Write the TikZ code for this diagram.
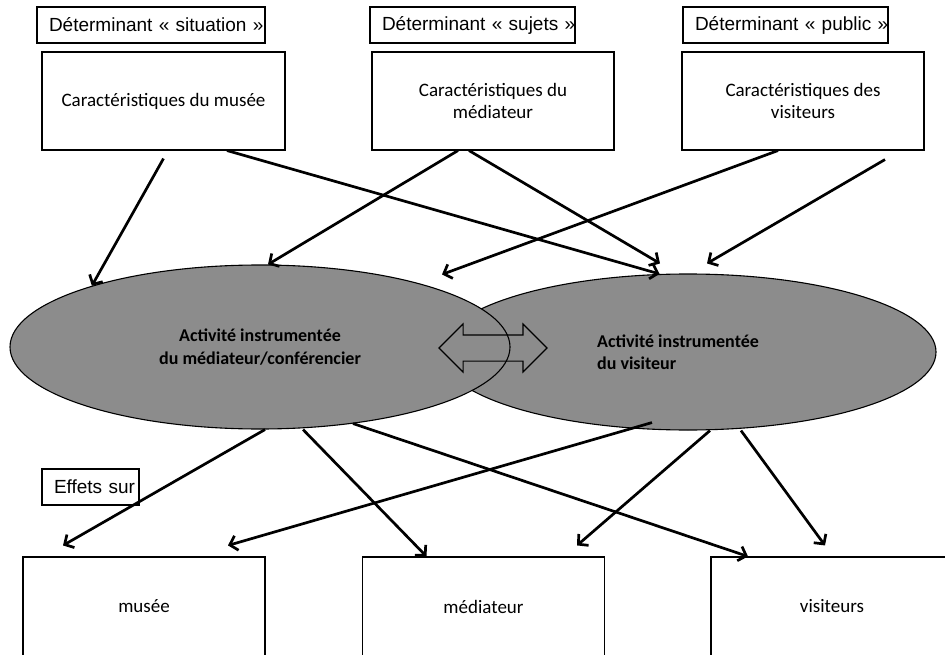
\documentclass[tikz,border=0pt]{standalone}
\usepackage{fontspec}
\setmainfont{Carlito}
\newfontfamily\arialfont{Liberation Sans}
\usepackage{tikz}
\usetikzlibrary{arrows.meta,positioning,shapes.geometric,shapes.arrows}
\definecolor{actgray}{RGB}{140,140,140}

\begin{document}
\begin{tikzpicture}[x=1pt, y=-1pt,
    detbox/.style={draw, line width=1.1pt, inner xsep=12pt, inner ysep=0pt, minimum height=36pt, align=left, font=\arialfont\fontsize{19}{22}\selectfont},
    carbox/.style={draw, line width=1.1pt, inner sep=0pt, minimum width=242pt, minimum height=98pt, align=center, font=\fontsize{19}{22.5}\selectfont},
    activ/.style={ellipse, draw, line width=1.1pt, fill=actgray, inner sep=0pt, align=center, font=\bfseries\fontsize{18}{22.5}\selectfont},
    arr/.style={line width=2.7pt, -{Straight Barb[length=7pt,width=15pt]}}]
    \useasboundingbox (0,0) rectangle (945,655);
    \clip (0,0) rectangle (945,655);

    % Determinants
    \node[detbox, text width=204pt] (dsit) at (151,25) {\mbox{Déterminant « situation »}};
    \node[detbox, text width=181pt] (dsuj) at (472.5,25) {\mbox{Déterminant « sujets »}};
    \node[detbox, text width=181pt] (dpub) at (785.5,25) {\mbox{Déterminant « public »}};

    % Caracteristiques
    \node[carbox, minimum width=243pt] (cmus) at (163.5,101) {Caractéristiques du musée};
    \node[carbox] (cmed) at (493,101) {Caractéristiques du\\médiateur};
    \node[carbox] (cvis) at (803,101) {Caractéristiques des\\visiteurs};

    % Activites (visiteur first, the other one lies over it)
    \node[activ, minimum width=496pt, minimum height=156pt,
        label={[font=\bfseries\fontsize{18}{22.5}\selectfont, align=left, xshift=-10pt]center:Activité instrumentée\\du visiteur}] (avis) at (688,352) {};
    \node[activ, minimum width=500pt, minimum height=164pt] (amed) at (260,347) {Activité instrumentée\\du médiateur/conférencier};
    \node[double arrow, draw, line width=1.1pt, minimum height=108pt, minimum width=47pt,
        double arrow head extend=11pt, inner xsep=0pt, inner ysep=12.5pt] (echange) at (493,348) {};

    % Effets
    \node[detbox, text width=73pt] (effets) at (90.5,487) {\mbox{Effets sur}};
    \node[carbox, minimum height=99pt] (bmus) at (144,606.5) {musée};
    \node[carbox, minimum height=99pt] (bmed) at (483.5,606.5) {médiateur};
    \node[carbox, minimum height=99pt] (bvis) at (832,606.5) {visiteurs};

    % Arrows towards the activities
    \draw[arr] ([yshift=-8pt]cmus.south) -- (amed.160);
    \draw[arr] ([xshift=63.5pt]cmus.south) -- (avis.110);
    \draw[arr] ([xshift=-35pt]cmed.south) -- ([xshift=8pt]amed.north);
    \draw[arr] ([xshift=-24pt]cmed.south) -- ([xshift=-28pt,yshift=10pt]avis.north);
    \draw[arr] ([xshift=-25pt]cvis.south) -- ([xshift=182pt,yshift=-10pt]amed.north);
    \draw[arr] ([xshift=82pt,yshift=-9pt]cvis.south) -- ([xshift=19pt,yshift=10pt]avis.north);

    % Arrows towards the effects
    \draw[arr] ([xshift=5pt]amed.south) -- ([xshift=-81pt,yshift=11pt]bmus.north);
    \draw[arr] ([xshift=43pt]amed.south) -- ([xshift=-57pt]bmed.north);
    \draw[arr] ([xshift=93pt,yshift=6pt]amed.south) -- ([xshift=-84pt]bvis.north);
    \draw[arr] ([xshift=-36pt,yshift=8pt]avis.south) -- ([xshift=84pt,yshift=11pt]bmus.north);
    \draw[arr] ([xshift=22pt]avis.south) -- ([xshift=93.5pt,yshift=11pt]bmed.north);
    \draw[arr] ([xshift=53pt]avis.south) -- ([xshift=-7pt,yshift=11pt]bvis.north);

\end{tikzpicture}
\end{document}
